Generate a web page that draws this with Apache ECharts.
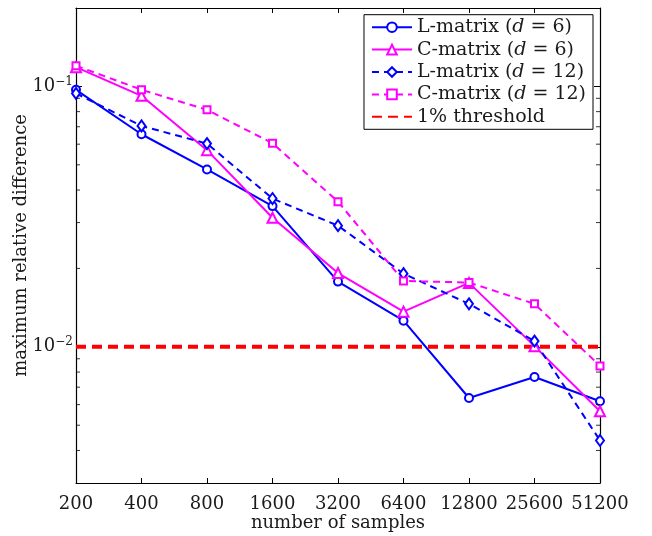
<!DOCTYPE html>
<html>
<head>
<meta charset="utf-8">
<script src="https://cdn.jsdelivr.net/npm/echarts@6/dist/echarts.min.js"></script>
<style>html,body{margin:0;padding:0;background:#fff}#c{width:652px;height:536px}</style>
</head>
<body>
<div id="c"></div>
<script>
var samples = ['200','400','800','1600','3200','6400','12800','25600','51200'];
var lMatrix6  = [0.097, 0.0655, 0.048, 0.0347, 0.0178, 0.0126, 0.00636, 0.00766, 0.00618];
var cMatrix6  = [0.1185, 0.092, 0.0569, 0.0313, 0.0192, 0.01365, 0.0176, 0.01006, 0.00566];
var lMatrix12 = [0.094, 0.0705, 0.0603, 0.0371, 0.0292, 0.0191, 0.01462, 0.01052, 0.00437];
var cMatrix12 = [0.120, 0.0971, 0.0813, 0.0605, 0.0361, 0.0179, 0.01766, 0.01462, 0.00845];
var threshold = [0.01, 0.01, 0.01, 0.01, 0.01, 0.01, 0.01, 0.01, 0.01];
var minorTicks = [0.004,0.005,0.006,0.007,0.008,0.009,0.02,0.03,0.04,0.05,0.06,0.07,0.08,0.09];
var seriesNames = ['L-matrix (d = 6)','C-matrix (d = 6)','L-matrix (d = 12)','C-matrix (d = 12)','1% threshold'];

var FONT = 'DejaVu Serif';
var FS = 18;
var LFS = 19;
var TXT = '#1a1a1a';
var chart = echarts.init(document.getElementById('c'), null, {renderer:'canvas'});

function yLabel(v){
  var e = Math.log10(v);
  var r = Math.round(e);
  if (Math.abs(e - r) > 1e-6) return '';
  return '{b|10}{s|' + (r < 0 ? '\u2212' + (-r) : r) + '}';
}
function legendFmt(name){
  var m = name.match(/^(.*)\(d = (\d+)\)$/);
  if (!m) return '{a|' + name + '}';
  return '{a|' + m[1] + '(}{i|d}{a| = ' + m[2] + ')}';
}
var axisLineStyle = {color:'#000', width:1.2};
var yAxisBase = {
  type:'log', min:0.003, max:0.2, logBase:10,
  splitLine:{show:false},
  axisLine:{show:true, onZero:false, lineStyle:axisLineStyle},
  axisTick:{show:true, inside:true, length:6, lineStyle:{color:'#000', width:1}}
};
var tickStyle = {symbol:'rect', symbolSize:[4,1], itemStyle:{color:'#000'}, silent:true, z:5};
var option = {
  backgroundColor:'#fff',
  animation:false,
  grid:{left:76, right:52, top:8, bottom:53, containLabel:false, outerBoundsMode:'none'},
  legend:{
    orient:'vertical', right:59, top:14.7,
    backgroundColor:'#fff', borderColor:'#000', borderWidth:1, borderRadius:0,
    padding:[3,7,3,7], itemWidth:40, itemHeight:12, itemGap:3.4,
    data:[seriesNames[0], seriesNames[1], seriesNames[2], seriesNames[3],
      {name:seriesNames[4], itemStyle:{opacity:0}}],
    formatter:legendFmt,
    textStyle:{
      fontFamily:FONT, fontSize:LFS, color:TXT,
      rich:{
        a:{fontFamily:FONT, fontSize:LFS, color:TXT},
        i:{fontFamily:FONT, fontSize:LFS, fontStyle:'italic', color:TXT}
      }
    }
  },
  xAxis:[{
    type:'category', data:samples, boundaryGap:false,
    name:'number of samples', nameLocation:'middle', nameGap:31, nameMoveOverlap:false,
    nameTextStyle:{fontFamily:FONT, fontSize:FS, color:TXT},
    axisLine:{show:true, lineStyle:axisLineStyle},
    axisTick:{show:true, inside:true, length:5, alignWithLabel:true, lineStyle:{color:'#000'}},
    axisLabel:{fontFamily:FONT, fontSize:FS, color:TXT, margin:12, interval:0},
    splitLine:{show:false}
  },{
    type:'category', data:samples, boundaryGap:false, position:'top',
    axisLine:{show:true, lineStyle:axisLineStyle},
    axisTick:{show:true, inside:true, length:5, lineStyle:{color:'#000'}},
    axisLabel:{show:false}, splitLine:{show:false}
  }],
  yAxis:[
    Object.assign({}, yAxisBase, {
      position:'left',
      name:'maximum relative difference', nameLocation:'middle', nameGap:46, nameMoveOverlap:false,
      nameTextStyle:{fontFamily:FONT, fontSize:FS, color:TXT},
      axisLabel:{show:true, margin:3, formatter:yLabel, color:TXT,
        rich:{
          b:{fontFamily:FONT, fontSize:FS, color:TXT, lineHeight:22},
          s:{fontFamily:FONT, fontSize:12, color:TXT, verticalAlign:'top', lineHeight:12}
        }
      }
    }),
    Object.assign({}, yAxisBase, {position:'right', axisLabel:{show:false}})
  ],
  series:[
    {name:seriesNames[0], type:'line', data:lMatrix6, symbol:'emptyCircle', symbolSize:8,
      lineStyle:{color:'#0000ff', width:2}, itemStyle:{color:'#0000ff', borderWidth:1.5}},
    {name:seriesNames[1], type:'line', data:cMatrix6, symbol:'emptyTriangle', symbolSize:10,
      lineStyle:{color:'#ff00ff', width:2}, itemStyle:{color:'#ff00ff', borderWidth:1.5}},
    {name:seriesNames[2], type:'line', data:lMatrix12, symbol:'emptyDiamond', symbolSize:[8,11],
      lineStyle:{color:'#0000ff', width:2, type:[7,5]}, itemStyle:{color:'#0000ff', borderWidth:1.5}},
    {name:seriesNames[3], type:'line', data:cMatrix12, symbol:'emptyRect', symbolSize:7,
      lineStyle:{color:'#ff00ff', width:2, type:[7,5]}, itemStyle:{color:'#ff00ff', borderWidth:1.5}},
    {name:seriesNames[4], type:'line', data:threshold, symbol:'none',
      lineStyle:{color:'#ff0000', width:4, type:[10,6]}, itemStyle:{color:'#ff0000'}},
    Object.assign({type:'scatter', name:'minorLeft', symbolOffset:[2,0],
      data:minorTicks.map(function(v){ return [0, v]; })}, tickStyle),
    Object.assign({type:'scatter', name:'minorRight', symbolOffset:[-2,0],
      data:minorTicks.map(function(v){ return [samples.length-1, v]; })}, tickStyle)
  ]
};
chart.setOption(option);
</script>
</body>
</html>
